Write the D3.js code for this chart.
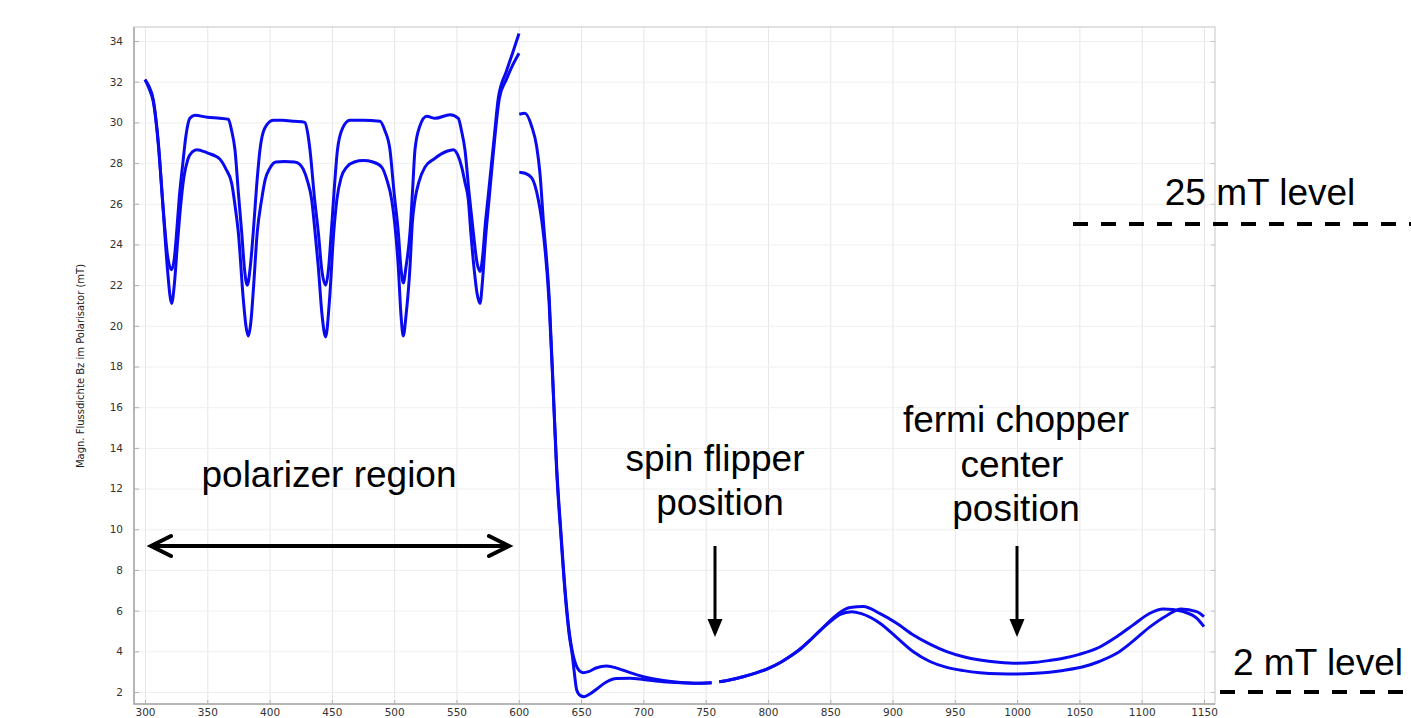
<!DOCTYPE html>
<html>
<head>
<meta charset="utf-8">
<script src="https://cdn.jsdelivr.net/npm/d3@7"></script>
<style>
  body { margin: 0; background: #fff; }
  svg { display: block; }
  .tick text { font-family: "DejaVu Sans", sans-serif; font-size: 10.5px; fill: #333; }
  .note { font-family: "Liberation Sans", Arial, sans-serif; font-size: 37px; fill: #000; }
</style>
</head>
<body>
<div id="chart"></div>
<script>
// tick values
var xTicks = [300, 350, 400, 450, 500, 550, 600, 650, 700, 750, 800, 850, 900, 950, 1000, 1050, 1100, 1150];
var yTicks = [2, 4, 6, 8, 10, 12, 14, 16, 18, 20, 22, 24, 26, 28, 30, 32, 34];

// upper curve (plateaus ~30 mT), [position, Bz]
var upperPolarizer = [
  [300, 32.1], [303, 31.8], [306.7, 31.1], [310.7, 29.0], [314.7, 25.7], [318, 23.5], [321.4, 22.75],
  [323.5, 23.3], [325.4, 24.6], [327.5, 26.3], [330.2, 27.9], [333, 29.4], [336, 30.2], [340, 30.35],
  [350, 30.25], [360, 30.2], [366.9, 30.15], [369.5, 29.6], [372.2, 28.66], [375, 26.5], [377.6, 24.6],
  [380, 22.7], [382.1, 22.0], [384.5, 22.9], [386.9, 24.6], [389.5, 26.8], [392.3, 28.66], [396, 29.7],
  [403, 30.1], [410, 30.1], [420, 30.05], [428.4, 30.0], [430.5, 29.5], [432.4, 28.66], [436, 26.3],
  [439.1, 24.6], [442, 22.7], [445, 22.0], [447.3, 22.8], [449.5, 24.6], [452, 26.8], [454.5, 28.66],
  [458.5, 29.7], [464.5, 30.1], [475, 30.1], [488.6, 30.05], [492.5, 29.6], [496.6, 28.66], [500, 26.5],
  [503.3, 24.6], [505.5, 22.8], [507.3, 22.1], [509.5, 22.9], [512.7, 24.6], [514.8, 26.7], [516.7, 28.66],
  [520.5, 29.8], [526.1, 30.3], [533, 30.2], [544.8, 30.38], [551.5, 30.2], [554, 29.6], [556.8, 28.66],
  [560, 26.6], [563.5, 24.6], [566.5, 23.1], [568.9, 22.67], [571, 23.4], [573, 24.9], [575.5, 26.4],
  [578, 27.9], [580.5, 29.4], [583.6, 31.2], [590, 32.5], [595, 33.4], [600.2, 34.37]
];
var upperDrop = [
  [600.4, 30.4], [605, 30.45], [610.4, 29.8], [614.4, 28.8], [617, 27.5], [619.7, 25.2], [624.5, 21.3],
  [628, 16.4], [630.4, 13.1], [633.9, 9.8], [637.9, 6.5], [640.6, 4.9], [643.3, 3.9], [645.8, 3.35],
  [648.5, 3.05], [651.8, 2.95], [656, 3.0], [662, 3.18], [670.5, 3.28], [680, 3.15], [689.3, 2.95],
  [700, 2.75], [716, 2.56], [730, 2.47], [742.8, 2.43], [754.8, 2.46]
];
var upperFar = [
  [760.9, 2.5], [770, 2.6], [780, 2.75], [790, 2.93], [800, 3.15], [810, 3.45], [817, 3.72], [825.7, 4.1],
  [833, 4.5], [841.8, 5.02], [849.8, 5.5], [858, 5.92], [866, 6.15], [876.5, 6.2], [890, 5.85],
  [903.3, 5.38], [916.7, 4.8], [930, 4.35], [943.5, 3.98], [957, 3.73], [970.2, 3.57], [985, 3.46],
  [1000, 3.41], [1015, 3.46], [1026, 3.55], [1037, 3.66], [1050, 3.85], [1066, 4.2], [1080, 4.72],
  [1093.2, 5.3], [1106.6, 5.87], [1117.3, 6.08], [1125, 6.05], [1133.3, 5.95], [1144.1, 5.63], [1150, 5.21]
];

// lower curve (plateaus ~28 mT)
var lowerPolarizer = [
  [300, 32.1], [303, 31.7], [306.7, 31.0], [310.7, 28.9], [314.7, 25.6], [318, 22.8], [321.4, 21.1],
  [323.5, 22.0], [326, 24.0], [328.6, 25.9], [331.2, 27.3], [334.5, 28.2], [338, 28.55], [341.5, 28.66],
  [350, 28.5], [360, 28.2], [365, 27.7], [369.6, 27.0], [372.5, 25.8], [374.9, 24.6], [378.9, 21.3],
  [381, 20.0], [382.9, 19.5], [385, 20.2], [387, 21.8], [390.1, 24.6], [393.6, 26.2], [396.5, 27.2],
  [399.8, 27.7], [405, 28.05], [412, 28.08], [420, 28.05], [424, 27.95], [427, 27.7], [430.5, 27.1],
  [433.8, 26.2], [436.5, 24.6], [439.1, 22.9], [442, 20.6], [445, 19.45], [448, 21.2], [451.5, 24.6],
  [454, 26.2], [457.5, 27.3], [461.9, 27.8], [468, 28.05], [475.2, 28.12], [483, 28.05], [490, 27.8],
  [494, 27.2], [498, 26.2], [500.5, 25.0], [503.3, 22.9], [505.5, 20.5], [507.3, 19.5], [509.5, 20.5],
  [512.7, 22.9], [514.5, 25.0], [516.7, 26.2], [520, 27.1], [524.7, 27.8], [532, 28.2], [542.2, 28.58],
  [547.5, 28.66], [551, 28.4], [554.2, 27.8], [557, 27.0], [559.5, 26.2], [561.5, 24.6], [564, 22.9],
  [566.5, 21.6], [568.9, 21.1], [571, 22.3], [573.2, 24.2], [576.3, 26.3], [579.6, 28.5], [584.5, 31.2],
  [590, 32.1], [595, 32.8], [600.2, 33.4]
];
var lowerDrop = [
  [600.4, 27.55], [605, 27.5], [610.4, 27.27], [615.7, 26.2], [618.4, 25.2], [620, 24.4], [624.3, 21.2],
  [628, 16.3], [630.3, 13.0], [633.8, 9.7], [637.8, 6.4], [640.5, 4.8], [643, 3.8], [644.5, 3.0],
  [646.5, 2.1], [649.5, 1.82], [652.4, 1.77], [657, 1.9], [662.6, 2.15], [670, 2.48], [678.6, 2.66],
  [689.3, 2.68], [700, 2.62], [716, 2.5], [730, 2.45], [742.8, 2.43], [754.8, 2.45]
];
var lowerFar = [
  [760.9, 2.5], [770, 2.6], [780, 2.75], [790, 2.93], [800, 3.15], [810, 3.45], [817, 3.72], [825.7, 4.1],
  [833, 4.5], [841.8, 5.02], [849.8, 5.45], [858, 5.82], [867.2, 5.95], [875, 5.85], [889.9, 5.38],
  [903, 4.7], [916.7, 3.98], [930, 3.5], [943.5, 3.21], [957, 3.05], [970.2, 2.95], [985, 2.9],
  [1000, 2.89], [1015, 2.92], [1026, 2.97], [1037, 3.06], [1053, 3.24], [1066, 3.5], [1080, 3.9],
  [1093, 4.5], [1106.6, 5.2], [1119.9, 5.75], [1131.6, 6.08], [1144.1, 5.95], [1150, 5.7]
];

var segments = [upperPolarizer, upperDrop, upperFar, lowerPolarizer, lowerDrop, lowerFar];

var width = 1411, height = 718;
// plot frame
var frame = { left: 134, right: 1215, top: 27, bottom: 704 };

var svg = d3.select("#chart").append("svg")
    .attr("width", width)
    .attr("height", height);

var x = d3.scaleLinear().domain([300, 1150]).range([145, 1204]);
var y = d3.scaleLinear().domain([2, 34]).range([692, 41]);

// grid lines
svg.append("g")
    .attr("transform", "translate(0," + frame.bottom + ")")
    .call(d3.axisBottom(x).tickValues(xTicks).tickSize(-(frame.bottom - frame.top)).tickFormat(""))
    .call(function(g) { g.select(".domain").remove(); })
    .selectAll("line").attr("stroke", "#e6e6e6");

svg.append("g")
    .attr("transform", "translate(" + frame.left + ",0)")
    .call(d3.axisLeft(y).tickValues(yTicks).tickSize(-(frame.right - frame.left)).tickFormat(""))
    .call(function(g) { g.select(".domain").remove(); })
    .selectAll("line").attr("stroke", "#efefef");

// frame
svg.append("rect")
    .attr("x", frame.left).attr("y", frame.top)
    .attr("width", frame.right - frame.left).attr("height", frame.bottom - frame.top)
    .attr("fill", "none").attr("stroke", "#c4c4c4").attr("stroke-width", 1);

svg.append("path")
    .attr("d", "M" + frame.left + "," + frame.top + "V" + frame.bottom + "H" + frame.right)
    .attr("fill", "none").attr("stroke", "#a8a8a8").attr("stroke-width", 1.5);

// axes with inward ticks
var yAxis = svg.append("g")
    .attr("transform", "translate(" + frame.left + ",0)")
    .call(d3.axisLeft(y).tickValues(yTicks).tickSize(-5).tickPadding(11));
yAxis.select(".domain").remove();
yAxis.selectAll("line").attr("stroke", "#b0b0b0");

var yAxisR = svg.append("g")
    .attr("transform", "translate(" + frame.right + ",0)")
    .call(d3.axisRight(y).tickValues(yTicks).tickSize(-4).tickFormat(""));
yAxisR.select(".domain").remove();
yAxisR.selectAll("line").attr("stroke", "#c4c4c4");

var xAxis = svg.append("g")
    .attr("transform", "translate(0," + frame.bottom + ")")
    .call(d3.axisBottom(x).tickValues(xTicks).tickSize(-4).tickPadding(5).tickFormat(d3.format("d")));
xAxis.select(".domain").remove();
xAxis.selectAll("line").attr("stroke", "#b0b0b0");

// y axis title
svg.append("text")
    .attr("transform", "translate(84,366) rotate(-90)")
    .attr("text-anchor", "middle")
    .style("font-family", "'DejaVu Sans', sans-serif")
    .style("font-size", "10px")
    .style("fill", "#222")
    .text("Magn. Flussdichte Bz im Polarisator (mT)");

// field curves
var line = d3.line()
    .x(function(d) { return x(d[0]); })
    .y(function(d) { return y(d[1]); })
    .curve(d3.curveMonotoneX);

svg.selectAll(".curve")
    .data(segments)
    .enter().append("path")
    .attr("class", "curve")
    .attr("d", line)
    .attr("fill", "none")
    .attr("stroke", "#0a0af0")
    .attr("stroke-width", 3)
    .attr("stroke-linejoin", "round");

// level markers
svg.append("line")
    .attr("x1", 1073).attr("x2", width)
    .attr("y1", y(25)).attr("y2", y(25))
    .attr("stroke", "#000").attr("stroke-width", 4).attr("stroke-dasharray", "15,13");
svg.append("line")
    .attr("x1", 1220).attr("x2", width)
    .attr("y1", y(2)).attr("y2", y(2))
    .attr("stroke", "#000").attr("stroke-width", 4).attr("stroke-dasharray", "15,13");

svg.append("text").attr("class", "note").attr("x", 1260).attr("y", 205)
    .attr("text-anchor", "middle").text("25 mT level");
svg.append("text").attr("class", "note").attr("x", 1318).attr("y", 675)
    .attr("text-anchor", "middle").text("2 mT level");

// polarizer region double arrow
var ay = 546;
svg.append("line")
    .attr("x1", 152).attr("x2", 508).attr("y1", ay).attr("y2", ay)
    .attr("stroke", "#000").attr("stroke-width", 4);
svg.append("path")
    .attr("d", "M171,536L151," + ay + "L171,556M489,536L509," + ay + "L489,556")
    .attr("fill", "none").attr("stroke", "#000").attr("stroke-width", 4)
    .attr("stroke-linecap", "round").attr("stroke-linejoin", "miter");
svg.append("text").attr("class", "note").attr("x", 329).attr("y", 487)
    .attr("text-anchor", "middle").text("polarizer region");

// down arrows
function downArrow(px) {
  svg.append("line")
      .attr("x1", px).attr("x2", px).attr("y1", 546).attr("y2", 622)
      .attr("stroke", "#000").attr("stroke-width", 3);
  svg.append("path")
      .attr("d", "M" + (px - 7.5) + ",619L" + (px + 7.5) + ",619L" + px + ",637Z")
      .attr("fill", "#000");
}
downArrow(715);
downArrow(1017);

svg.append("text").attr("class", "note").attr("x", 715).attr("y", 471)
    .attr("text-anchor", "middle").text("spin flipper");
svg.append("text").attr("class", "note").attr("x", 720).attr("y", 515)
    .attr("text-anchor", "middle").text("position");

svg.append("text").attr("class", "note").attr("x", 1016).attr("y", 432)
    .attr("text-anchor", "middle").text("fermi chopper");
svg.append("text").attr("class", "note").attr("x", 1012).attr("y", 477)
    .attr("text-anchor", "middle").text("center");
svg.append("text").attr("class", "note").attr("x", 1016).attr("y", 521)
    .attr("text-anchor", "middle").text("position");
</script>
</body>
</html>
